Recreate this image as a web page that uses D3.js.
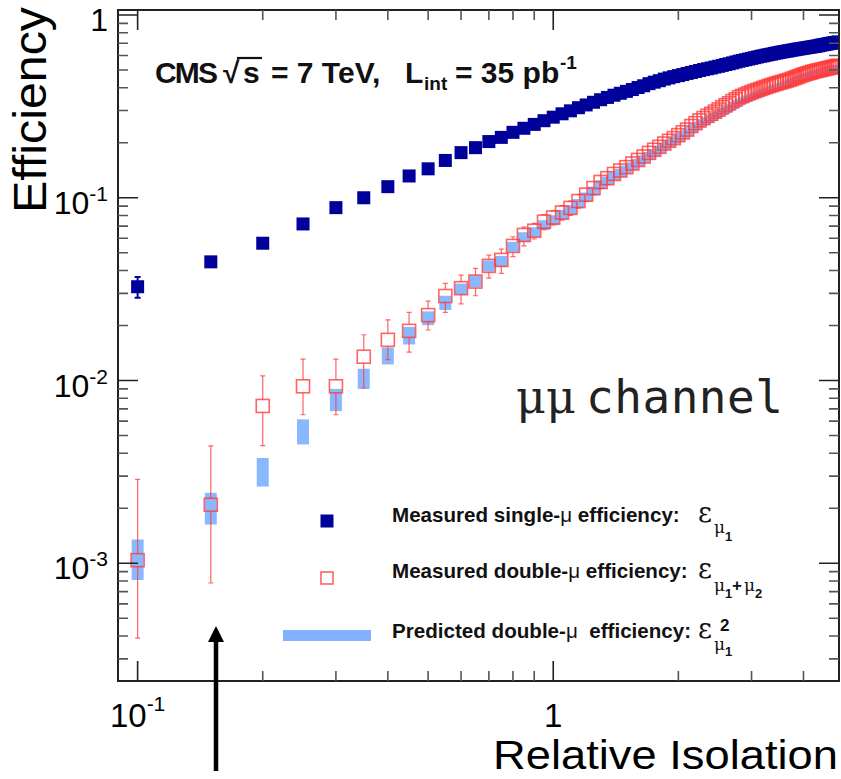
<!DOCTYPE html>
<html>
<head>
<meta charset="utf-8">
<script src="https://cdn.jsdelivr.net/npm/d3@7"></script>
<style>
    body { margin: 0; background: #fff; }
    svg { display: block; font-family: "Liberation Sans", Arial, Helvetica, sans-serif; }
</style>
</head>
<body>
<svg id="plot" width="841" height="779"></svg>
<script>
// relative isolation bins
const isoBins = [
    0.10, 0.15, 0.20, 0.25, 0.30, 0.35, 0.40, 0.45, 0.50, 0.55, 0.60, 0.65, 0.70, 0.75, 0.80, 0.85, 0.90, 0.95, 1.00,
    1.05, 1.10, 1.15, 1.20, 1.25, 1.30, 1.35, 1.40, 1.45, 1.50, 1.55, 1.60, 1.65, 1.70, 1.75, 1.80, 1.85, 1.90, 1.95, 2.00,
    2.05, 2.10, 2.15, 2.20, 2.25, 2.30, 2.35, 2.40, 2.45, 2.50, 2.55, 2.60, 2.65, 2.70, 2.75, 2.80, 2.85, 2.90, 2.95, 3.00,
    3.05, 3.10, 3.15, 3.20, 3.25, 3.30, 3.35, 3.40, 3.45, 3.50, 3.55, 3.60, 3.65, 3.70, 3.75, 3.80, 3.85, 3.90, 3.95, 4.00,
    4.05, 4.10, 4.15, 4.20, 4.25, 4.30, 4.35, 4.40, 4.45, 4.50, 4.55, 4.60, 4.65, 4.70, 4.75, 4.80, 4.85
];

// measured single-mu efficiency
const singleEff = [
    0.0326, 0.0446, 0.0564, 0.0719, 0.0883, 0.100, 0.115, 0.1316, 0.144, 0.160, 0.1766, 0.188, 0.203, 0.214, 0.228, 0.240, 0.252, 0.264, 0.276,
    0.288, 0.299, 0.311, 0.322, 0.333, 0.344, 0.354, 0.364, 0.373, 0.382, 0.391, 0.401, 0.410, 0.421, 0.429, 0.437, 0.446, 0.453, 0.460, 0.466,
    0.472, 0.479, 0.485, 0.491, 0.497, 0.503, 0.508, 0.513, 0.519, 0.524, 0.530, 0.536, 0.541, 0.547, 0.553, 0.559, 0.564, 0.569, 0.574, 0.579,
    0.584, 0.589, 0.594, 0.598, 0.603, 0.607, 0.611, 0.616, 0.620, 0.624, 0.628, 0.631, 0.635, 0.638, 0.642, 0.645, 0.649, 0.652, 0.655, 0.658,
    0.661, 0.664, 0.667, 0.670, 0.673, 0.676, 0.679, 0.684, 0.687, 0.690, 0.693, 0.697, 0.700, 0.703, 0.706, 0.709, 0.712
];
const singleErr = [0.0042, 0.0025, 0.0015];

// measured double-mu efficiency
const doubleEff = [
    0.00104, 0.00209, 0.00726, 0.0093, 0.0093, 0.0135, 0.0167, 0.0187, 0.0228, 0.029, 0.032, 0.0348, 0.0424, 0.0457, 0.0545, 0.0626, 0.066, 0.074, 0.078,
    0.083, 0.088, 0.096, 0.104, 0.113, 0.122, 0.128, 0.135, 0.141, 0.147, 0.154, 0.161, 0.168, 0.176, 0.183, 0.190, 0.198, 0.205, 0.212, 0.220,
    0.228, 0.236, 0.247, 0.256, 0.265, 0.273, 0.281, 0.288, 0.296, 0.304, 0.313, 0.321, 0.329, 0.338, 0.346, 0.355, 0.361, 0.367, 0.373, 0.379,
    0.384, 0.389, 0.394, 0.399, 0.404, 0.409, 0.413, 0.418, 0.422, 0.426, 0.430, 0.434, 0.438, 0.442, 0.447, 0.452, 0.457, 0.462, 0.467, 0.472,
    0.476, 0.480, 0.484, 0.488, 0.492, 0.495, 0.498, 0.501, 0.504, 0.507, 0.510, 0.513, 0.516, 0.519, 0.522, 0.525, 0.528
];
const doubleErr = [
    0.00184, 0.0023, 0.00334, 0.0038, 0.0038, 0.0043, 0.0048, 0.0049, 0.0044, 0.0050, 0.0057, 0.0063, 0.0062, 0.0066, 0.0067, 0.0064, 0.0065, 0.0070, 0.0070,
    0.0075, 0.0079, 0.0082, 0.0088, 0.0090, 0.0098, 0.0102, 0.0101, 0.0106, 0.0110, 0.0108, 0.0113, 0.0118, 0.0123, 0.0119, 0.0124, 0.0129, 0.0133, 0.0127, 0.0132,
    0.0137, 0.0142, 0.0148, 0.0154, 0.0146, 0.0150, 0.0155, 0.0158, 0.0163, 0.0167, 0.0157, 0.0161, 0.0165, 0.0169, 0.0173, 0.0178, 0.0181, 0.0184, 0.0187, 0.0190,
    0.0173, 0.0175, 0.0177, 0.0180, 0.0182, 0.0184, 0.0186, 0.0188, 0.0190, 0.0192, 0.0194, 0.0195, 0.0197, 0.0199, 0.0201, 0.0203, 0.0206, 0.0208, 0.0210, 0.0212,
    0.0213, 0.0214, 0.0215, 0.0216, 0.0217, 0.0218, 0.0219, 0.0220, 0.0220, 0.0221, 0.0221, 0.0222, 0.0222, 0.0223, 0.0223, 0.0224, 0.0224
];
// lower error where it differs from the upper one
const doubleErrLow = [
    0.00065, 0.00131, 0.00286, 0.0028, 0.0028, 0.0044, 0.0037, 0.0044, 0.0039, 0.0054, 0.0057, 0.0057, 0.0061, 0.0071, 0.0069, 0.0081, 0.0065, 0.0070, 0.0070
];

// predicted double-mu efficiency (single squared)
const predEff = [
    0.00108, 0.00203, 0.0032, 0.0053, 0.0079, 0.0103, 0.0137, 0.0177, 0.022, 0.0267, 0.0317, 0.035, 0.0424, 0.045, 0.054, 0.061, 0.065, 0.071, 0.0755,
    0.081, 0.086, 0.093, 0.101, 0.109, 0.118, 0.124, 0.131, 0.137, 0.143, 0.149, 0.156, 0.163, 0.170, 0.177, 0.184, 0.191, 0.198, 0.205, 0.212,
    0.219, 0.227, 0.236, 0.244, 0.252, 0.259, 0.266, 0.273, 0.280, 0.287, 0.295, 0.302, 0.309, 0.317, 0.324, 0.332, 0.338, 0.344, 0.350, 0.356,
    0.361, 0.366, 0.371, 0.376, 0.381, 0.386, 0.391, 0.396, 0.400, 0.405, 0.410, 0.414, 0.419, 0.424, 0.429, 0.434, 0.439, 0.444, 0.449, 0.454,
    0.459, 0.463, 0.468, 0.472, 0.476, 0.480, 0.484, 0.488, 0.492, 0.495, 0.499, 0.502, 0.505, 0.508, 0.511, 0.514, 0.517
];
const predErr = [
    0.00027, 0.0004, 0.00057, 0.00083, 0.0011, 0.0013, 0.00145, 0.00195, 0.0019, 0.0024, 0.0022, 0.0026, 0.0030, 0.0031, 0.0034, 0.0038, 0.0040, 0.0044, 0.0047,
    0.0049, 0.0051, 0.0054, 0.0058, 0.0061, 0.0064, 0.0066, 0.0068, 0.0070, 0.0072, 0.0073, 0.0075, 0.0077, 0.0079, 0.0080, 0.0082, 0.0084, 0.0085, 0.0087, 0.0089,
    0.0090, 0.0092, 0.0094, 0.0095, 0.0097, 0.0098, 0.0100, 0.0101, 0.0102, 0.0103, 0.0105, 0.0106, 0.0107, 0.0108, 0.0109, 0.0110, 0.0111, 0.0112, 0.0113, 0.0114,
    0.0115, 0.0116, 0.0117, 0.0118, 0.0119, 0.0120, 0.0121, 0.0122, 0.0123, 0.0124, 0.0125, 0.0126, 0.0127, 0.0128, 0.0129, 0.0130, 0.0131, 0.0132, 0.0133, 0.0134,
    0.0135, 0.0136, 0.0137, 0.0138, 0.0139, 0.0140, 0.0141, 0.0142, 0.0143, 0.0144, 0.0145, 0.0146, 0.0147, 0.0148, 0.0149, 0.0150, 0.0150
];

const yMajorTicks = [1e-3, 1e-2, 1e-1, 1];
const yTickExps = ["-3", "-2", "-1", ""];
const xMajorTicks = [0.1, 1];
const xTickExps = ["-1", ""];

const legendLabels = [
    ["Measured single-", "μ", " efficiency:"],
    ["Measured double-", "μ", " efficiency:"],
    ["Predicted double-", "μ", "\u00a0 efficiency:"],
];

class EfficiencyPlot {

    draw() {

        const svg = d3.select("#plot");
        const left = 118, right = 839, top = 10, bottom = 681;

        const x = d3.scaleLog().domain([0.0897, 4.87]).range([left, right]);
        const y = d3.scaleLog().domain([2.27e-4, 1.065]).range([bottom, top]);

        const single = "#00009a", red = "#ff3c3c", pred = "#80b2ff";

        svg.append("clipPath").attr("id", "frame-clip")
            .append("rect")
            .attr("x", left).attr("y", top)
            .attr("width", right - left).attr("height", bottom - top);

        let plot = svg.append("g").attr("clip-path", "url(#frame-clip)");

        let rows = isoBins.map((v, i) => ({
            iso: v,
            single: singleEff[i],
            sErr: singleErr[i] || 0,
            dbl: doubleEff[i],
            dUp: doubleErr[i],
            dLo: i < doubleErrLow.length ? doubleErrLow[i] : doubleErr[i],
            pred: predEff[i],
            pErr: predErr[i],
        }));

        // predicted: filled boxes spanning the error
        plot.append("g").selectAll("rect")
            .data(rows)
            .enter()
            .append("rect")
            .attr("x", (d) => x(d.iso) - 6)
            .attr("width", 12)
            .attr("y", (d) => y(d.pred + d.pErr))
            .attr("height", (d) => Math.max(3, y(d.pred - d.pErr) - y(d.pred + d.pErr)))
            .attr("fill", pred)
            .attr("opacity", 0.92);

        // measured double: error bars outside the open square
        let dbl = plot.append("g")
            .attr("stroke", red)
            .attr("stroke-opacity", 0.8)
            .attr("fill", "none");

        dbl.selectAll("path")
            .data(rows)
            .enter()
            .append("path")
            .attr("stroke-width", 1.2)
            .attr("d", (d) => {
                let cx = x(d.iso), cy = y(d.dbl);
                let hi = y(d.dbl + d.dUp), lo = y(d.dbl - d.dLo);
                let p = "";
                if (hi < cy - 6.5) p += `M${cx},${cy - 6.5}V${hi}M${cx - 2.5},${hi}H${cx + 2.5}`;
                if (lo > cy + 6.5) p += `M${cx},${cy + 6.5}V${lo}M${cx - 2.5},${lo}H${cx + 2.5}`;
                return p;
            });

        dbl.selectAll("rect")
            .data(rows)
            .enter()
            .append("rect")
            .attr("x", (d) => x(d.iso) - 6.5)
            .attr("y", (d) => y(d.dbl) - 6.5)
            .attr("width", 13)
            .attr("height", 13)
            .attr("stroke-width", 1.6);

        // measured single
        let sgl = plot.append("g");

        sgl.selectAll("path")
            .data(rows.filter((d) => d.sErr > 0))
            .enter()
            .append("path")
            .attr("stroke", single)
            .attr("stroke-width", 2)
            .attr("fill", "none")
            .attr("d", (d) => {
                let cx = x(d.iso);
                let hi = y(d.single + d.sErr), lo = y(d.single - d.sErr);
                return `M${cx},${hi}V${lo}M${cx - 3},${hi}H${cx + 3}M${cx - 3},${lo}H${cx + 3}`;
            });

        sgl.selectAll("rect")
            .data(rows)
            .enter()
            .append("rect")
            .attr("x", (d) => x(d.iso) - 6.5)
            .attr("y", (d) => y(d.single) - 6.5)
            .attr("width", 13)
            .attr("height", 13)
            .attr("fill", single);

        // frame and ticks
        let axes = svg.append("g").attr("stroke", "#222");

        axes.append("rect")
            .attr("x", left).attr("y", top)
            .attr("width", right - left).attr("height", bottom - top)
            .attr("fill", "none")
            .attr("stroke-width", 2);

        let isMajor = (v) => Math.abs(Math.log10(v) - Math.round(Math.log10(v))) < 1e-6;

        let yTicks = y.ticks();
        axes.append("g").selectAll("path")
            .data(yTicks)
            .enter()
            .append("path")
            .attr("stroke-width", 1.6)
            .attr("stroke", (d) => isMajor(d) ? "#222" : "#555")
            .attr("d", (d) => {
                let len = isMajor(d) ? 20 : 10;
                return `M${left},${y(d)}H${left + len}M${right},${y(d)}H${right - len}`;
            });

        let xTicks = x.ticks().filter((v) => v >= 0.099);
        axes.append("g").selectAll("path")
            .data(xTicks)
            .enter()
            .append("path")
            .attr("stroke-width", 1.6)
            .attr("stroke", (d) => isMajor(d) ? "#222" : "#555")
            .attr("d", (d) => {
                let len = isMajor(d) ? 20 : 10;
                return `M${x(d)},${bottom}V${bottom - len}M${x(d)},${top}V${top + len}`;
            });

        // tick labels
        let yLab = svg.append("g").selectAll("text")
            .data(yMajorTicks)
            .enter()
            .append("text")
            .attr("x", 108)
            .attr("y", (d) => y(d) + 16)
            .attr("text-anchor", "end")
            .attr("font-size", 32);
        yLab.append("tspan").text((d, i) => yTickExps[i] ? "10" : "1");
        yLab.append("tspan")
            .attr("font-size", 21)
            .attr("dy", -13)
            .text((d, i) => yTickExps[i]);

        let xLab = svg.append("g").selectAll("text")
            .data(xMajorTicks)
            .enter()
            .append("text")
            .attr("x", (d) => x(d))
            .attr("y", 727)
            .attr("text-anchor", "middle")
            .attr("font-size", 33);
        xLab.append("tspan").text((d, i) => xTickExps[i] ? "10" : "1");
        xLab.append("tspan")
            .attr("font-size", 21)
            .attr("dy", -16)
            .text((d, i) => xTickExps[i]);

        // axis titles
        svg.append("text")
            .attr("transform", "translate(46,110) rotate(-90)")
            .attr("text-anchor", "middle")
            .attr("font-size", 47)
            .attr("textLength", 206)
            .attr("lengthAdjust", "spacingAndGlyphs")
            .text("Efficiency");

        svg.append("text")
            .attr("x", 838)
            .attr("y", 769)
            .attr("text-anchor", "end")
            .attr("font-size", 41)
            .attr("textLength", 345)
            .attr("lengthAdjust", "spacingAndGlyphs")
            .text("Relative Isolation");

        // CMS label
        let title = svg.append("text")
            .attr("y", 83)
            .attr("font-size", 30)
            .attr("font-weight", "bold")
            .attr("fill", "#111");
        title.append("tspan").attr("x", 155).attr("textLength", 63).text("CMS");
        title.append("tspan").attr("x", 223).text("√");
        title.append("tspan").attr("x", 243).text("s");
        title.append("tspan").attr("x", 271).text("= 7 TeV,");
        title.append("tspan").attr("x", 405).text("L");
        title.append("tspan").attr("x", 424).attr("y", 90).attr("font-size", 19).text("int");
        title.append("tspan").attr("x", 455).attr("y", 83).text("= 35 pb");
        title.append("tspan").attr("x", 560).attr("y", 69).attr("font-size", 19).text("-1");
        svg.append("line")
            .attr("x1", 237).attr("x2", 262)
            .attr("y1", 58).attr("y2", 58)
            .attr("stroke", "#111").attr("stroke-width", 2.2);

        // channel label
        let chan = svg.append("text")
            .attr("y", 413)
            .attr("font-size", 46)
            .attr("fill", "#222");
        chan.append("tspan").attr("x", 516).attr("font-family", "DejaVu Serif").text("μμ");
        chan.append("tspan").attr("x", 586)
            .attr("font-family", "DejaVu Sans Mono")
            .attr("textLength", 197)
            .text("channel");

        // legend
        let legend = svg.append("g");
        legend.append("rect")
            .attr("x", 320.5).attr("y", 514.5)
            .attr("width", 13).attr("height", 13)
            .attr("fill", single);
        legend.append("rect")
            .attr("x", 321).attr("y", 572)
            .attr("width", 12).attr("height", 12)
            .attr("fill", "none")
            .attr("stroke", red).attr("stroke-opacity", 0.8).attr("stroke-width", 1.6);
        legend.append("rect")
            .attr("x", 283).attr("y", 630)
            .attr("width", 88).attr("height", 11)
            .attr("fill", pred);

        let legendY = [522, 578, 638];
        let lt = legend.selectAll(".lab")
            .data(legendLabels)
            .enter()
            .append("text")
            .attr("x", 392)
            .attr("y", (d, i) => legendY[i])
            .attr("font-size", 20.6)
            .attr("font-weight", "bold")
            .attr("fill", "#111");
        lt.append("tspan").text((d) => d[0]);
        lt.append("tspan").attr("font-weight", "normal").text((d) => d[1]);
        lt.append("tspan").text((d) => d[2]);

        const sym = [
            ["ε", 698, 522, 27], ["μ", 714, 533, 17], ["1", 725, 541, 13],
            ["ε", 698, 578, 27], ["μ", 714, 591, 17], ["1", 725, 598, 13],
            ["+", 732, 591, 17], ["μ", 744, 591, 17], ["2", 755, 598, 13],
            ["ε", 698, 638, 27], ["2", 720, 631, 17], ["μ", 714, 650, 17], ["1", 725, 656, 13],
        ];
        legend.selectAll(".sym")
            .data(sym)
            .enter()
            .append("text")
            .attr("x", (d) => d[1])
            .attr("y", (d) => d[2])
            .attr("font-size", (d) => d[3])
            .attr("font-family", (d) => "0123456789+".includes(d[0]) ? "Liberation Sans" : "DejaVu Serif")
            .attr("font-weight", (d) => "0123456789+".includes(d[0]) ? "bold" : "normal")
            .attr("fill", "#111")
            .text((d) => d[0]);

        // arrow under the plot
        svg.append("line")
            .attr("x1", 216).attr("x2", 216)
            .attr("y1", 638).attr("y2", 771)
            .attr("stroke", "#000").attr("stroke-width", 4.5);
        svg.append("path")
            .attr("d", "M216,626L208,642L224,642Z")
            .attr("fill", "#000");
    }
}

new EfficiencyPlot().draw();
</script>
</body>
</html>
